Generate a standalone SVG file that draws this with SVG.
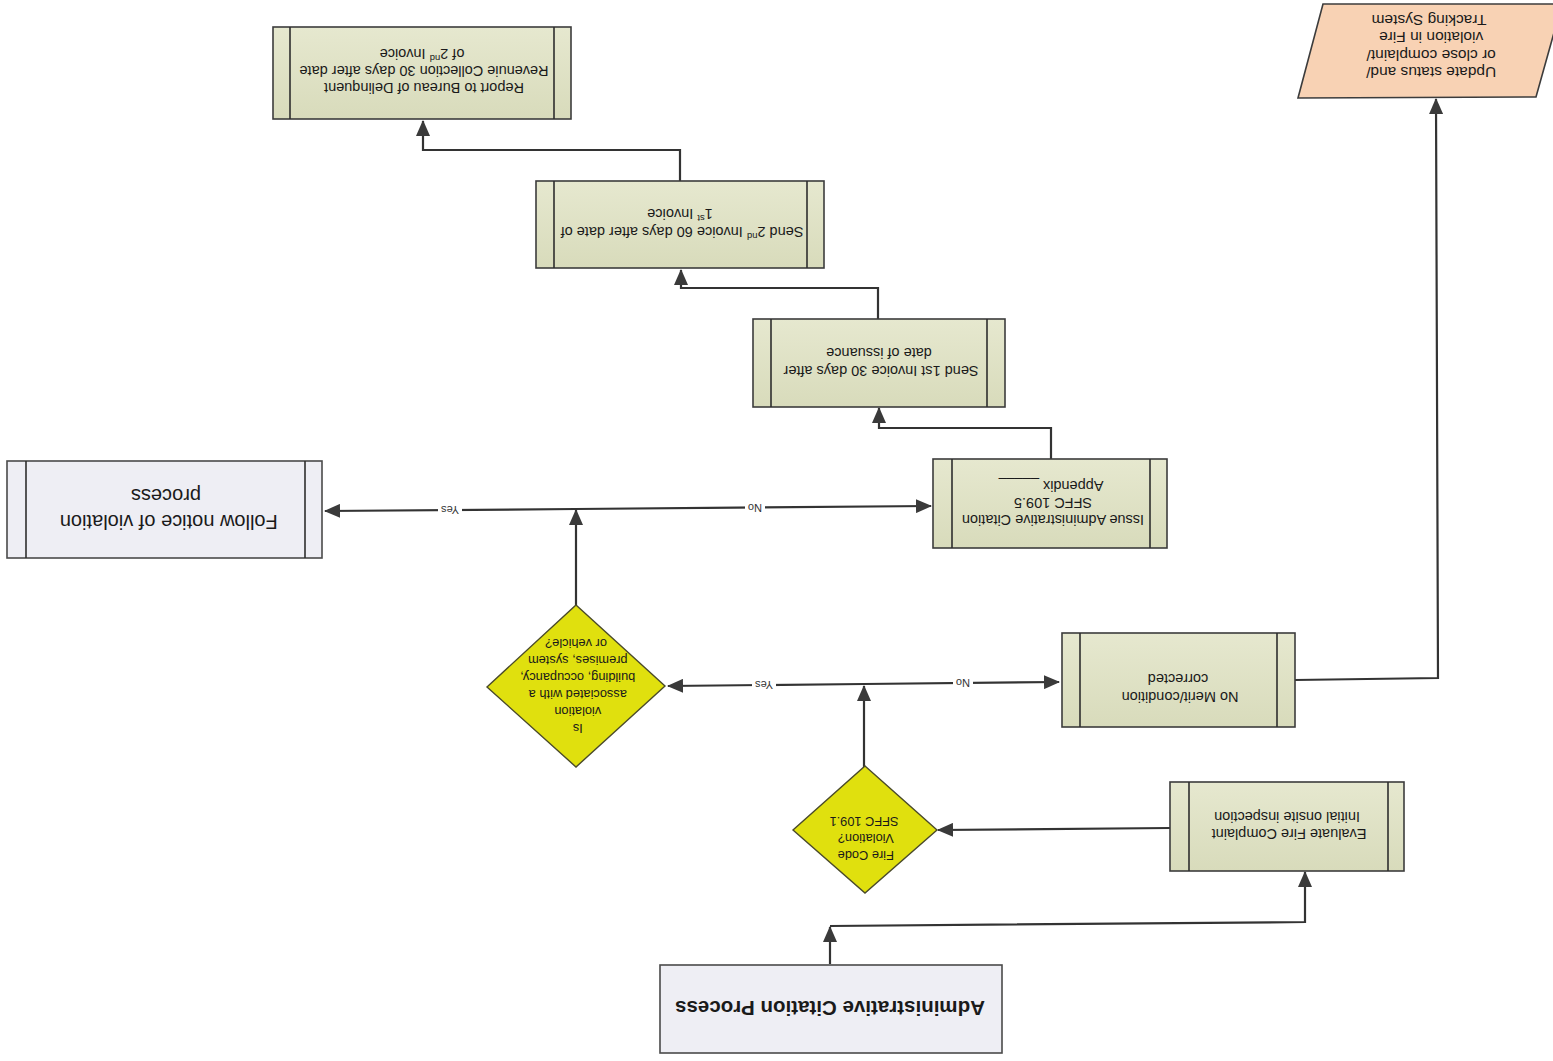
<svg xmlns="http://www.w3.org/2000/svg" width="1553" height="1061" viewBox="0 0 1553 1061">
<defs>
<marker id="arr" markerUnits="userSpaceOnUse" markerWidth="16" markerHeight="14" refX="15" refY="7" orient="auto">
<path d="M0,0 L16,7 L0,14 Z" fill="#3a3a3a"/>
</marker>
<linearGradient id="gbox" x1="0" y1="0" x2="0" y2="1">
<stop offset="0" stop-color="#e6e8cf"/>
<stop offset="1" stop-color="#d8dbbb"/>
</linearGradient>
</defs>
<style>
.bg{fill:#ffffff}
.box{fill:url(#gbox);stroke:#3c3c3c;stroke-width:1.6}
.lav{fill:#eeeef4;stroke:#4a4a4a;stroke-width:1.6}
.inner{stroke:#2e2e2e;stroke-width:1.6}
.dia{fill:#e0e00e;stroke:#4a4a2a;stroke-width:1.4}
.par{fill:#f8d2b4;stroke:#3c3c3c;stroke-width:1.6}
.t{font-family:"Liberation Sans",Arial,sans-serif;font-size:14.5px;fill:#1a1a1a;text-anchor:middle;dominant-baseline:central}
.tp{font-family:"Liberation Sans",Arial,sans-serif;font-size:15.5px;fill:#1a1a1a;text-anchor:middle;dominant-baseline:central}
.td{font-family:"Liberation Sans",Arial,sans-serif;font-size:12.8px;fill:#1a1a1a;text-anchor:middle;dominant-baseline:central}
.tb{font-family:"Liberation Sans",Arial,sans-serif;font-size:20px;fill:#1a1a1a;text-anchor:middle;dominant-baseline:central}
.tt{font-family:"Liberation Sans",Arial,sans-serif;font-size:20.5px;font-weight:bold;fill:#1a1a1a;text-anchor:middle;dominant-baseline:central}
.lbl{font-family:"Liberation Sans",Arial,sans-serif;font-size:11px;fill:#333;text-anchor:middle;dominant-baseline:central}
.lblbg{fill:#ffffff}
.c{fill:none;stroke:#333333;stroke-width:2.2}
</style>
<rect class="bg" x="0" y="0" width="1553" height="1061"/>

<g id="connectors">
<path class="c" d="M830,964 V927" marker-end="url(#arr)"/>
<path class="c" d="M830,926 L1305,922 V872" marker-end="url(#arr)"/>
<path class="c" d="M1170,828 L938,830" marker-end="url(#arr)"/>
<path class="c" d="M864,767 V686" marker-end="url(#arr)"/>
<path class="c" d="M864,684 L1059,682" marker-end="url(#arr)"/>
<path class="c" d="M864,684 L668,686" marker-end="url(#arr)"/>
<path class="c" d="M1295,680 L1438,678 L1436,99" marker-end="url(#arr)"/>
<path class="c" d="M576,605 V510" marker-end="url(#arr)"/>
<path class="c" d="M576,509 L931,506" marker-end="url(#arr)"/>
<path class="c" d="M576,509 L325,511" marker-end="url(#arr)"/>
<path class="c" d="M1051,459 V428 H879 V408" marker-end="url(#arr)"/>
<path class="c" d="M878,319 V288 H681 V270" marker-end="url(#arr)"/>
<path class="c" d="M680,181 V150 H423 V121" marker-end="url(#arr)"/>
<g id="labels">
<rect class="lblbg" x="752" y="678" width="24" height="13"/>
<text class="lbl" transform="rotate(180 764 684.5)" x="764" y="684.5">Yes</text>
<rect class="lblbg" x="953" y="677" width="20" height="13"/>
<text class="lbl" transform="rotate(180 963 683)" x="963" y="683">No</text>
<rect class="lblbg" x="438" y="503" width="24" height="13"/>
<text class="lbl" transform="rotate(180 450 509.5)" x="450" y="509.5">Yes</text>
<rect class="lblbg" x="745" y="501" width="20" height="13"/>
<text class="lbl" transform="rotate(180 755 507.5)" x="755" y="507.5">No</text>
</g>
</g>

<g id="node-update">
<polygon class="par" points="1323,4 1562,4 1536,97 1298,98"/>
<text class="tp" transform="rotate(180 1429 47)">
<tspan x="1429" y="21">Update status and/</tspan>
<tspan x="1429" y="38">or close complaint/</tspan>
<tspan x="1429" y="56">violation in Fire</tspan>
<tspan x="1429" y="73">Tracking System</tspan>
</text>
</g>

<g id="node-report">
<rect class="box" x="273" y="27" width="298" height="92"/>
<line class="inner" x1="290" y1="27" x2="290" y2="119"/>
<line class="inner" x1="554" y1="27" x2="554" y2="119"/>
<text class="t" transform="rotate(180 422 71)">
<tspan x="422" y="54">Report to Bureau of Delinquent</tspan>
<tspan x="422" y="71">Revenuie Collection 30 days after date</tspan>
<tspan x="422" y="88">of 2<tspan font-size="9.5" dy="-5">nd</tspan><tspan dy="5"> Invoice</tspan></tspan>
</text>
</g>

<g id="node-send2">
<rect class="box" x="536" y="181" width="288" height="87"/>
<line class="inner" x1="554" y1="181" x2="554" y2="268"/>
<line class="inner" x1="807" y1="181" x2="807" y2="268"/>
<text class="t" transform="rotate(180 680 223)">
<tspan x="680" y="214">Send 2<tspan font-size="9.5" dy="-5">nd</tspan><tspan dy="5"> Invoice 60 days after date of</tspan></tspan>
<tspan x="680" y="232">1<tspan font-size="9.5" dy="-5">st</tspan><tspan dy="5"> Invoice</tspan></tspan>
</text>
</g>

<g id="node-send1">
<rect class="box" x="753" y="319" width="252" height="88"/>
<line class="inner" x1="771" y1="319" x2="771" y2="407"/>
<line class="inner" x1="987" y1="319" x2="987" y2="407"/>
<text class="t" transform="rotate(180 879 362)">
<tspan x="879" y="353">Send 1st Invoice 30 days after</tspan>
<tspan x="879" y="371">date of issuance</tspan>
</text>
</g>

<g id="node-issue">
<rect class="box" x="933" y="459" width="234" height="89"/>
<line class="inner" x1="952" y1="459" x2="952" y2="548"/>
<line class="inner" x1="1150" y1="459" x2="1150" y2="548"/>
<text class="t" transform="rotate(180 1051 503)">
<tspan x="1051" y="486">Issue Administrative Citation</tspan>
<tspan x="1051" y="503">SFFC 109.5</tspan>
<tspan x="1051" y="520">Appendix _____</tspan>
</text>
</g>

<g id="node-follow">
<rect class="lav" x="7" y="461" width="315" height="97"/>
<line class="inner" x1="26" y1="461" x2="26" y2="558"/>
<line class="inner" x1="305" y1="461" x2="305" y2="558"/>
<text class="tb" transform="rotate(180 166 509)">
<tspan x="166" y="496">Follow notice of violation</tspan>
<tspan x="166" y="522">process</tspan>
</text>
</g>

<g id="node-is-violation">
<polygon class="dia" points="576,605 665,686 576,767 487,687"/>
<text class="td" transform="rotate(180 576 686)">
<tspan x="576" y="643.5">Is</tspan>
<tspan x="576" y="660.5">violation</tspan>
<tspan x="576" y="677.5">associated with a</tspan>
<tspan x="576" y="694.5">building, occupancy,</tspan>
<tspan x="576" y="711.5">premises, system</tspan>
<tspan x="576" y="728.5">or vehicle?</tspan>
</text>
</g>

<g id="node-fire-code">
<polygon class="dia" points="865,766 937,830 865,893 793,830"/>
<text class="td" transform="rotate(180 864 839)">
<tspan x="864" y="822">Fire Code</tspan>
<tspan x="864" y="839">Violation?</tspan>
<tspan x="864" y="856">SFFC 109.1</tspan>
</text>
</g>

<g id="node-no-merit">
<rect class="box" x="1062" y="633" width="233" height="94"/>
<line class="inner" x1="1080" y1="633" x2="1080" y2="727"/>
<line class="inner" x1="1277" y1="633" x2="1277" y2="727"/>
<text class="t" transform="rotate(180 1178 688)">
<tspan x="1178" y="679">No Merit/condition</tspan>
<tspan x="1178" y="697">corrected</tspan>
</text>
</g>

<g id="node-evaluate">
<rect class="box" x="1170" y="782" width="234" height="89"/>
<line class="inner" x1="1189" y1="782" x2="1189" y2="871"/>
<line class="inner" x1="1388" y1="782" x2="1388" y2="871"/>
<text class="t" transform="rotate(180 1287 825)">
<tspan x="1287" y="816.5">Evaluate Fire Complaint</tspan>
<tspan x="1287" y="833.5">Initial onsite inspection</tspan>
</text>
</g>

<g id="node-admin-process">
<rect class="lav" x="660" y="965" width="342" height="88"/>
<text class="tt" transform="rotate(180 830 1008)" x="830" y="1008">Administrative Citation Process</text>
</g>
</svg>
